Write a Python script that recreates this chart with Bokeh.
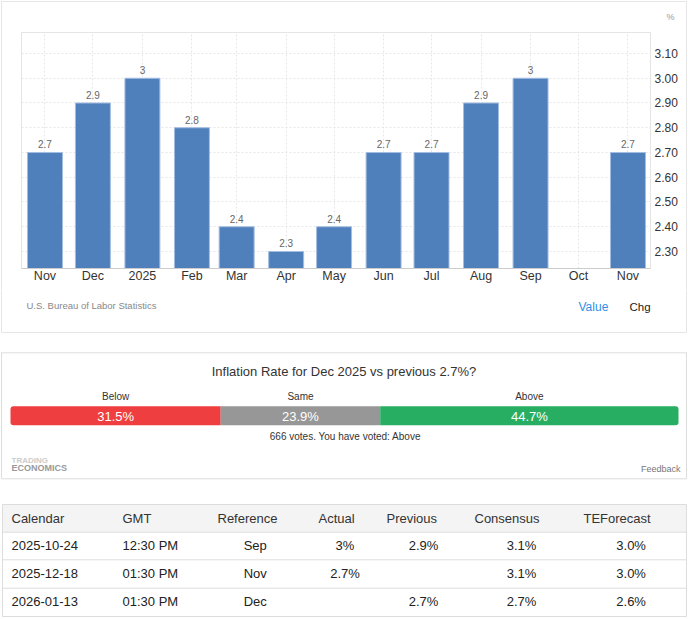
import numpy as np
from bokeh.plotting import figure
from bokeh.models import ColumnDataSource, Range1d, FixedTicker, NumeralTickFormatter
from bokeh.core.properties import value
from bokeh.embed import file_html
from bokeh.resources import INLINE

FONT = "Liberation Sans"
DAY_MS = 86_400_000
W = 688

# ---- data -------------------------------------------------------------------
months = ["2024-11-01", "2024-12-01", "2025-01-01", "2025-02-01", "2025-03-01",
          "2025-04-01", "2025-05-01", "2025-06-01", "2025-07-01", "2025-08-01",
          "2025-09-01", "2025-10-01", "2025-11-01"]
month_labels = ["Nov", "Dec", "2025", "Feb", "Mar", "Apr", "May", "Jun", "Jul",
                "Aug", "Sep", "Oct", "Nov"]
inflation = [2.7, 2.9, 3.0, 2.8, 2.4, 2.3, 2.4, 2.7, 2.7, 2.9, 3.0, None, 2.7]
y_ticks = [2.30, 2.40, 2.50, 2.60, 2.70, 2.80, 2.90, 3.00, 3.10]
source_note = "U.S. Bureau of Labor Statistics"

poll_question = "Inflation Rate for Dec 2025 vs previous 2.7%?"
poll_options = ["Below", "Same", "Above"]
poll_shares = [31.5, 23.9, 44.7]
poll_colors = ["#ee3e3f", "#979797", "#28ae62"]
poll_votes = 666
poll_voted = "Above"

table_header = ["Calendar", "GMT", "Reference", "Actual", "Previous", "Consensus", "TEForecast"]
cal_dates = ["2025-10-24", "2025-12-18", "2026-01-13"]
cal_times = ["12:30 PM", "01:30 PM", "01:30 PM"]
cal_reference = ["Sep", "Nov", "Dec"]
cal_actual = ["3%", "2.7%", ""]
cal_previous = ["2.9%", "", "2.7%"]
cal_consensus = ["3.1%", "3.1%", "2.7%"]
cal_forecast = ["3.0%", "3.0%", "2.6%"]

PANEL_LINE = "#e6e6e6"

# ---- bar chart --------------------------------------------------------------
t = [int(np.datetime64(m, "ms").astype(np.int64)) for m in months]
shown = [(ti, v) for ti, v in zip(t, inflation) if v is not None]
bars = ColumnDataSource(dict(
    x=[s[0] for s in shown],
    top=[s[1] for s in shown],
    label=[f"{s[1]:g}" for s in shown],
))

# the panel's top/left/right edges sit in the figure's margins, drawn as inset shadows
panel_edges = ("inset 0 1px 0 0 #ffffff, inset 1px 0 0 0 #ffffff, inset -1px 0 0 0 #ffffff, "
               f"inset 0 2px 0 0 {PANEL_LINE}, inset 2px 0 0 0 {PANEL_LINE}, "
               f"inset -2px 0 0 0 {PANEL_LINE}")

chart = figure(frame_width=629, frame_height=236, x_axis_type="datetime",
               x_range=Range1d(t[0] - 14.7 * DAY_MS, t[-1] + 14.1 * DAY_MS),
               y_range=Range1d(2.2313, 3.1848), y_axis_location="right",
               toolbar_location=None, output_backend="svg",
               min_border_left=21, min_border_right=38,
               min_border_top=32, min_border_bottom=22,
               styles={"box-shadow": panel_edges})
chart.outline_line_color = "#e4e4e4"
chart.background_fill_color = "white"
chart.border_fill_color = None

chart.title.text = "%"
chart.title.align = "right"
chart.title.offset = -24
chart.title.standoff = 20
chart.title.vertical_align = "middle"
chart.title.text_font = FONT
chart.title.text_font_size = "9px"
chart.title.text_font_style = "normal"
chart.title.text_color = "#999999"

for g in (chart.xgrid, chart.ygrid):
    g.grid_line_color = "#e6e6e6"
    g.grid_line_dash = "2 2"
chart.ygrid.ticker = FixedTicker(ticks=y_ticks)
chart.xgrid.ticker = FixedTicker(ticks=t)

chart.vbar(x="x", top="top", bottom=0, width=21.9 * DAY_MS, source=bars,
           fill_color="#4f80bb", line_color="#a4bde0", line_width=1)
chart.text(x="x", y="top", text="label", source=bars, y_offset=-8,
           text_align="center", text_baseline="middle", text_font_size="10px",
           text_color="#666666", text_font=value(FONT))

xa = chart.xaxis[0]
xa.ticker = FixedTicker(ticks=t)
xa.major_label_overrides = {ti: lab for ti, lab in zip(t, month_labels)}
xa.major_tick_line_color = None
xa.major_tick_out = 0
xa.major_tick_in = 0
xa.minor_tick_line_color = None
xa.axis_line_color = "#cccccc"
xa.major_label_standoff = 0
xa.major_label_text_font = FONT
xa.major_label_text_font_size = "12.5px"
xa.major_label_text_color = "#333333"

ya = chart.yaxis[0]
ya.ticker = FixedTicker(ticks=y_ticks)
ya.formatter = NumeralTickFormatter(format="0.00")
ya.major_tick_line_color = None
ya.major_tick_out = 0
ya.major_tick_in = 0
ya.minor_tick_line_color = None
ya.axis_line_color = None
ya.major_label_standoff = 4
ya.major_label_text_font = FONT
ya.major_label_text_font_size = "12px"
ya.major_label_text_color = "#333333"

# ---- lower part: chart footer, poll and calendar table ----------------------
LH = 329                     # lower figure height, y measured downward from its top
POLL_Y = 52                  # poll block offset
TABLE_Y = 202                # table block offset
BAR_L, BAR_R = 10, 678
total = sum(poll_shares)
k = (BAR_R - BAR_L) / total

low = figure(frame_width=W, frame_height=LH, x_range=Range1d(0, W), y_range=Range1d(LH, 0),
             x_axis_location=None, y_axis_location=None, min_border=0,
             toolbar_location=None, output_backend="svg")
low.title = None
low.extra_x_ranges = {"pct": Range1d(-BAR_L / k, (W - BAR_L) / k)}
low.outline_line_color = None
low.xgrid.visible = False
low.ygrid.visible = False


def txt(x, y, s, size, color, align="left", style="normal", **kw):
    low.text(x=x, y=y, text=s, text_align=align, text_baseline="middle",
             text_font_size=size, text_color=color, text_font_style=style,
             text_font=value(FONT), **kw)


# bottom of the chart panel
low.multi_line(xs=[[1, 1, 686, 686]], ys=[[0, 42, 42, 0]], line_color=PANEL_LINE)
txt([26], [15], [source_note], "9.5px", "#888888")
txt([578], [16], ["Value"], "12px", "#2f8fe8")
txt([629], [16], ["Chg"], "11.5px", "#222222")

# poll
low.quad(left=1, right=686, top=POLL_Y + 10.3, bottom=POLL_Y + 136.3,
         fill_color=None, line_color="#dddddd")
txt([343.5], [POLL_Y + 29], [poll_question], "13px", "#333333", "center")

radii = [(3, 0, 0, 3), 0, (0, 3, 3, 0)]
start = 0.0
centers = []
for share, colr, rad in zip(poll_shares, poll_colors, radii):
    low.hbar(y=[POLL_Y + 73.2], left=[start], right=[start + share], height=19,
             fill_color=colr, line_color=None, border_radius=rad, x_range_name="pct")
    centers.append(start + share / 2)
    start += share

txt(centers, [POLL_Y + 73.5] * 3, [f"{s:.1f}%" for s in poll_shares], "13px", "white",
    "center", x_range_name="pct")
txt(centers, [POLL_Y + 54] * 3, poll_options, "10px", "#333333", "center",
    x_range_name="pct")
txt([345], [POLL_Y + 94], [f"{poll_votes} votes. You have voted: {poll_voted}"],
    "10px", "#333333", "center")
txt([11], [POLL_Y + 117.5], ["TRADING"], "8px", "#cccccc", style="bold")
txt([11], [POLL_Y + 125.5], ["ECONOMICS"], "9px", "#999999", style="bold")
txt([680], [POLL_Y + 126], ["Feedback"], "9px", "#777777", "right")

# calendar table
row_edges = [TABLE_Y + e for e in (12, 39.7, 67.3, 95.7, 124)]
low.quad(left=2, right=686, top=row_edges[0], bottom=row_edges[1],
         fill_color="#f4f4f4", line_color=None)
low.quad(left=2, right=686, top=row_edges[0], bottom=row_edges[-1],
         fill_color=None, line_color="#dddddd")
low.segment(x0=[2] * 3, x1=[686] * 3, y0=row_edges[1:-1], y1=row_edges[1:-1],
            line_color="#dddddd")

header_y = (row_edges[0] + row_edges[1]) / 2 + 0.5
row_y = [TABLE_Y + y for y in (53, 80.7, 109)]
header_x = [11, 122, 217, 318, 386, 474, 583]
txt(header_x, [header_y] * len(table_header), table_header, "13px", "#333333")

left_cols = [(11, cal_dates), (122, cal_times)]
center_cols = [(254.7, cal_reference), (344.5, cal_actual), (423, cal_previous),
               (521, cal_consensus), (630.6, cal_forecast)]
for cx, vals in left_cols:
    txt([cx] * len(vals), row_y, vals, "13px", "#222222")
for cx, vals in center_cols:
    txt([cx] * len(vals), row_y, vals, "13px", "#222222", "center")

open("out.html", "w").write(file_html((chart, low), INLINE))
